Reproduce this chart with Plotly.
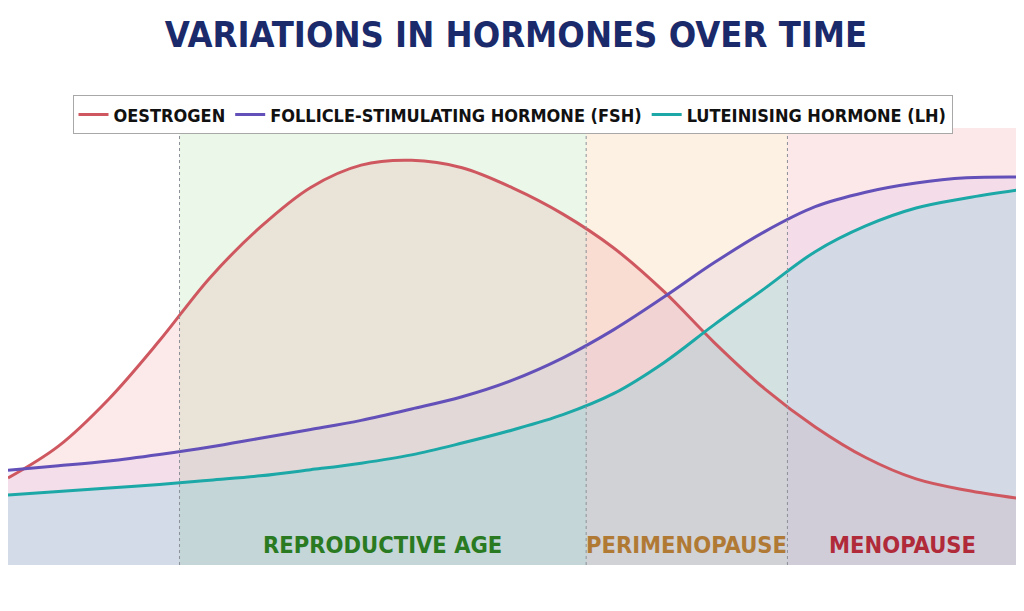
import plotly.graph_objects as go

# time axis (arbitrary units, 0 = left edge, 100 = right edge)
time = [0, 5, 10, 15, 20, 25, 30, 35, 40, 45, 50, 55, 60, 65, 70, 75, 80, 85, 90, 95, 100]

# hormone levels (0-100 scale)
oestrogen = [19.9, 27.2, 38.0, 51.3, 65.7, 77.3, 86.4, 91.5, 92.6, 90.9, 86.3, 80.3, 72.6, 62.6, 50.9, 40.3, 31.6, 24.6, 19.7, 17.1, 15.3]
fsh = [21.7, 22.7, 23.8, 25.3, 27.0, 29.0, 31.0, 33.1, 35.7, 38.5, 42.3, 47.4, 53.8, 61.3, 69.2, 76.3, 82.0, 85.3, 87.4, 88.6, 88.8]
lh = [16.0, 16.8, 17.6, 18.4, 19.4, 20.4, 21.8, 23.3, 25.2, 27.9, 30.9, 34.4, 39.2, 46.3, 55.0, 63.3, 71.7, 77.6, 81.7, 84.0, 85.8]

# life phases
phase_names = ["REPRODUCTIVE AGE", "PERIMENOPAUSE", "MENOPAUSE"]
phase_start = [17.0, 57.3, 77.25]
phase_end = [57.3, 77.25, 100]
phase_fill = ["rgba(120,200,110,0.15)", "rgba(240,170,80,0.16)", "rgba(240,100,110,0.15)"]
phase_text = ["#2a7a22", "#b07a35", "#b02a3a"]

narrow = "Liberation Sans Narrow, DejaVu Sans Condensed, Roboto, sans-serif"

series = [
    ("OESTROGEN", oestrogen, "#cf5860", "rgba(230,90,100,0.13)"),
    ("FOLLICLE-STIMULATING HORMONE (FSH)", fsh, "#6350b8", "rgba(150,110,230,0.09)"),
    ("LUTEINISING HORMONE (LH)", lh, "#1ca8a6", "rgba(80,210,220,0.2)"),
]

fig = go.Figure()
# shaded areas first, so every curve stays on top of all the fills
for name, vals, col, fillcol in series:
    fig.add_trace(go.Scatter(x=time, y=vals, mode='lines', showlegend=False, hoverinfo='skip',
                             line=dict(width=0, shape='spline', smoothing=1),
                             fill='tozeroy', fillcolor=fillcol))
for name, vals, col, fillcol in series:
    fig.add_trace(go.Scatter(x=time, y=vals, mode='lines', name='<b>' + name + '</b>',
                             line=dict(color=col, width=3, shape='spline', smoothing=1)))

shapes = []
for s, e, c in zip(phase_start, phase_end, phase_fill):
    shapes.append(dict(type='rect', xref='x', yref='paper', x0=s, x1=e, y0=0, y1=1,
                       fillcolor=c, line=dict(width=0), layer='below'))
for s in phase_start:
    shapes.append(dict(type='line', xref='x', yref='paper', x0=s, x1=s, y0=0, y1=1,
                       line=dict(color='#8d9099', width=1, dash='3px,3px'), layer='above'))

annotations = []
for n, s, e, c in zip(phase_names, phase_start, phase_end, phase_text):
    annotations.append(dict(x=(s + e) / 2, y=4.6, xref='x', yref='y', text='<b>' + n + '</b>',
                            showarrow=False, font=dict(family=narrow, size=23.5, color=c)))

# page body has an 8px margin, so the figure is sized to fit the window
fig.update_layout(
    width=1016, height=603,
    margin=dict(l=0, r=7, t=120, b=46),
    paper_bgcolor='white', plot_bgcolor='white',
    title=dict(text='<b>VARIATIONS IN HORMONES OVER TIME</b>', x=0.5, xanchor='center',
               y=1 - 26 / 603, yanchor='middle', yref='container',
               font=dict(family=narrow, size=36, color='#1b2a6b')),
    legend=dict(orientation='h', x=0.5, xanchor='center', y=1.03, yanchor='middle',
                bgcolor='white', bordercolor='#a8a8a8', borderwidth=1,
                font=dict(family=narrow, size=18, color='#111111'), itemwidth=30),
    xaxis=dict(range=[0, 100], visible=False, fixedrange=True),
    yaxis=dict(range=[0, 100], visible=False, fixedrange=True),
    shapes=shapes, annotations=annotations,
)

fig.write_html("out.html")
